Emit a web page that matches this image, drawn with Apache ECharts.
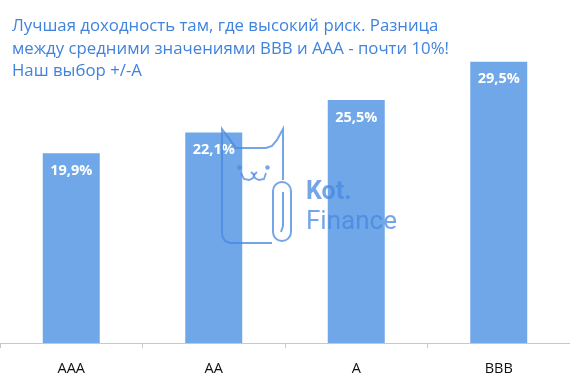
<!DOCTYPE html>
<html>
<head>
<meta charset="utf-8">
<script src="https://cdn.jsdelivr.net/npm/echarts@6/dist/echarts.min.js"></script>
<style>html,body{margin:0;padding:0;background:#fff}#c{width:570px;height:378px}</style>
</head>
<body>
<div id="c"></div>
<script>
const categories = ['AAA', 'AA', 'A', 'BBB'];
const yields = [19.9, 22.1, 25.5, 29.5];
const titleLines = [
  'Лучшая доходность там, где высокий риск. Разница',
  'между средними значениями BBB и AAA - почти 10%!',
  'Наш выбор +/-A'
];

const chart = echarts.init(document.getElementById('c'), null, {renderer: 'canvas'});
const wm = 'rgba(70,135,225,0.75)';
const ln = {fill: 'none', stroke: wm, lineWidth: 2};
chart.setOption({
  animation: false,
  title: {
    text: titleLines.join('\n'),
    left: 7, top: 10,
    textStyle: {fontFamily: 'Open Sans', fontSize: 16.8, fontWeight: 'normal', color: '#3f83df', lineHeight: 22.5}
  },
  grid: {left: -4, right: -5, top: 57.1, bottom: 35},
  xAxis: {
    type: 'category', data: categories,
    axisLine: {lineStyle: {color: '#c8c8c8', width: 1}},
    axisTick: {show: true, length: 5, lineStyle: {color: '#c8c8c8'}},
    axisLabel: {color: '#111', fontFamily: 'Open Sans', fontSize: 14.5, margin: 18}
  },
  yAxis: {type: 'value', min: 0, max: 30, show: false, splitLine: {show: false}},
  series: [{
    type: 'bar', data: yields, barWidth: 57,
    itemStyle: {color: '#6fa7e8'},
    label: {
      show: true, position: 'insideTop', distance: 10,
      formatter: p => p.value.toFixed(1).replace('.', ',') + '%',
      color: '#fff', fontFamily: 'Open Sans', fontWeight: 'bold', fontSize: 14.5
    }
  }],
  graphic: [
    {type: 'polyline', z: 100, shape: {points: [[272,243],[230,243],[225,241],[222.5,237],[222,232],[222,129],[236,148],[266,148],[272,146],[277,140],[283,129],[283,180]]}, style: ln},
    {type: 'rect', z: 100, shape: {x: 273, y: 182, width: 18, height: 59, r: 9}, style: ln},
    {type: 'polyline', z: 100, shape: {points: [[283,192],[283,226],[281,232]]}, style: ln},
    {type: 'polyline', z: 100, shape: {points: [[241,173],[244,179],[249,180],[253,178],[254,175],[255,178],[259,180],[264,179],[266,173]]}, style: {fill: 'none', stroke: wm, lineWidth: 1.8}},
    {type: 'polyline', z: 100, shape: {points: [[251,172],[254,175],[257,172]]}, style: {fill: 'none', stroke: wm, lineWidth: 1.8}},
    {type: 'circle', z: 100, shape: {cx: 239.5, cy: 167.5, r: 2.2}, style: {fill: wm}},
    {type: 'circle', z: 100, shape: {cx: 267.5, cy: 167.5, r: 2.2}, style: {fill: wm}},
    {type: 'text', z: 100, x: 306, y: 180, style: {text: 'Kot.', fontFamily: 'Roboto', fontWeight: 'bold', fontSize: 25, fill: wm}},
    {type: 'text', z: 100, x: 306, y: 209, style: {text: 'Finance', fontFamily: 'Roboto', fontWeight: 'normal', fontSize: 26, fill: wm}}
  ]
});
</script>
</body>
</html>
